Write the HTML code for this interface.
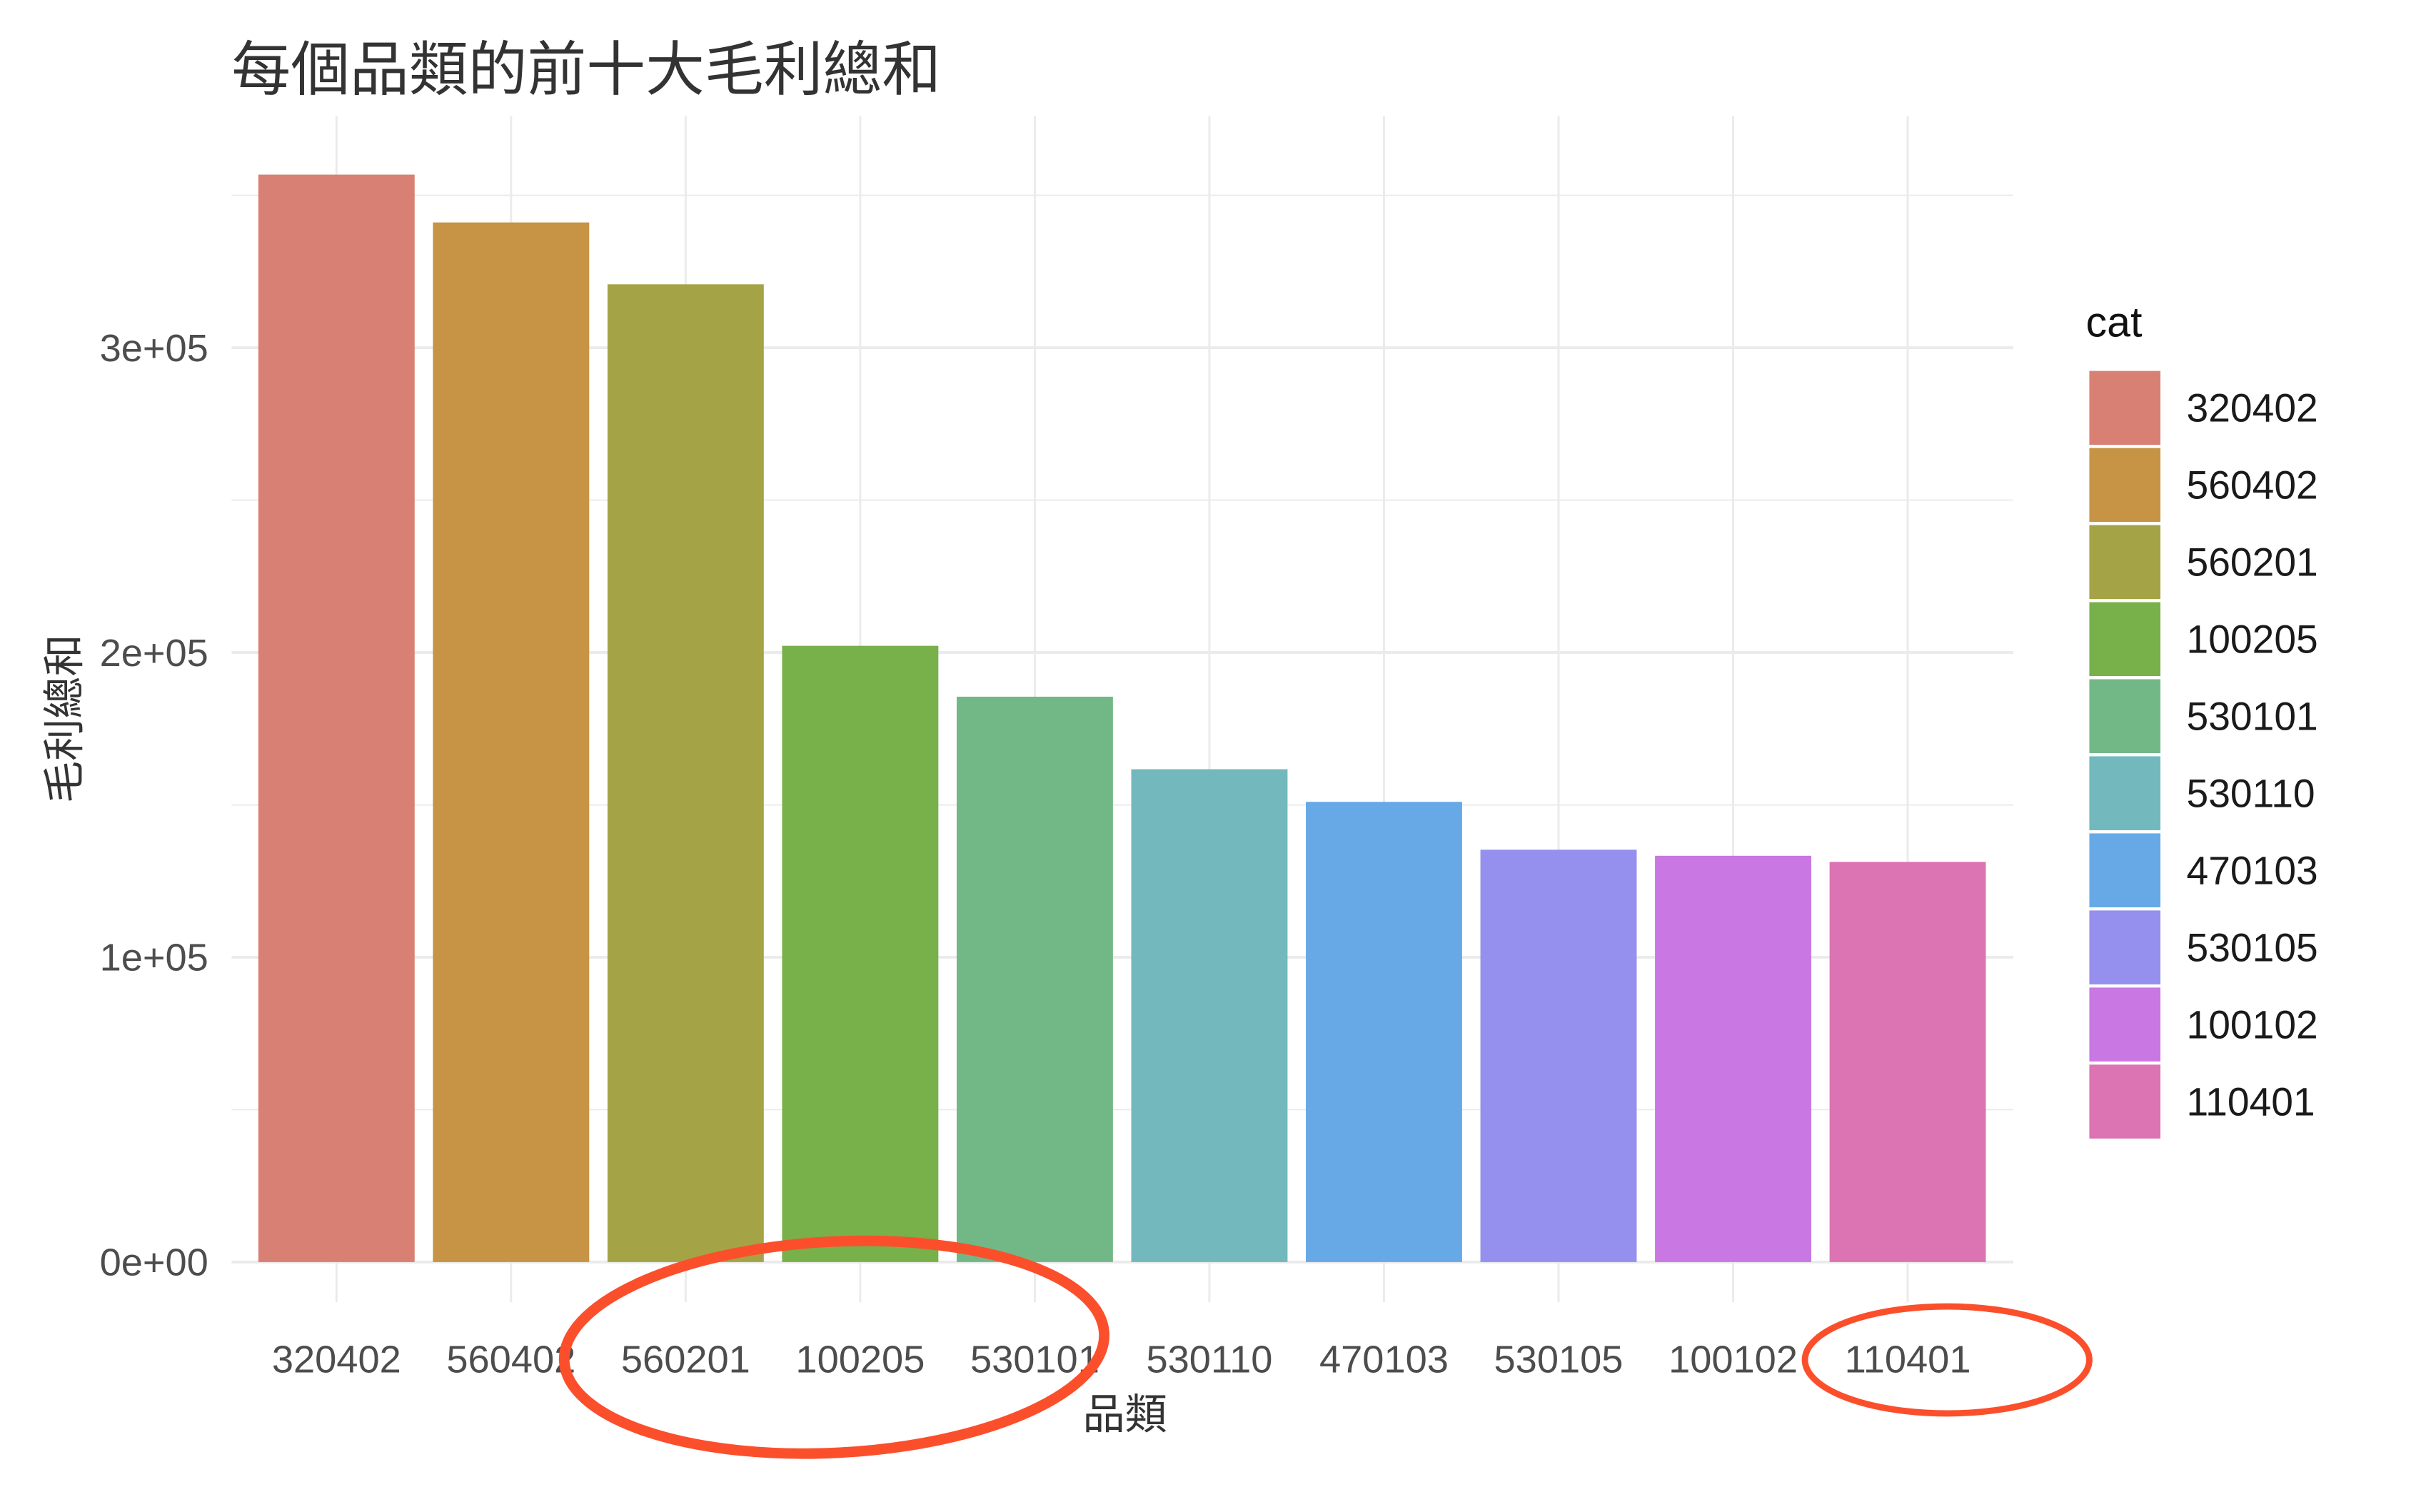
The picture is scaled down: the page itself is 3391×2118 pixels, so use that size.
<!DOCTYPE html>
<html><head><meta charset="utf-8"><style>
html,body{margin:0;padding:0;background:#fff;width:3391px;height:2118px;overflow:hidden}
svg text{font-family:"Liberation Sans","Noto Sans CJK TC",sans-serif}
</style></head><body>
<svg id="chart" width="3391" height="2118" viewBox="0 0 3391 2118" xmlns="http://www.w3.org/2000/svg">
<g transform="scale(0.986)">
<text x="329" y="128" font-size="84" fill="#333">每個品類的前十大毛利總和</text>
<g id="grid"></g><g id="bars"></g><g id="xticks"></g><g id="yticks"></g>
<text x="1598" y="2030" font-size="60" fill="#333" text-anchor="middle">品類</text>
<text transform="translate(112,1021) rotate(-90)" font-size="60" fill="#333" text-anchor="middle">毛利總和</text>
<g id="legend">
<text x="2963" y="478" font-size="60" fill="#111">cat</text>
</g>
<ellipse cx="1185" cy="1914" rx="384" ry="150" fill="none" stroke="#fb4f2c" stroke-width="15" transform="rotate(-3 1185 1914)"/>
<ellipse cx="2766" cy="1932" rx="202" ry="76" fill="none" stroke="#fb4f2c" stroke-width="9"/>
</g>
</svg>
<script>
const categories=["320402","560402","560201","100205","530101","530110","470103","530105","100102","110401"];
const values=[356800,341100,320800,202200,185500,161700,151000,135300,133300,131300];
const colors=["#D98074","#C79344","#A4A446","#78B04A","#72B886","#72B8BD","#67A9E6","#958FEE","#C877E3","#DC73B2"];
const yTicks=[0,100000,200000,300000];
const yTickLabels=["0e+00","1e+05","2e+05","3e+05"];
const NS="http://www.w3.org/2000/svg";
const panelL=329,panelR=2860,panelT=165,y0=1793,pxPer=433/100000;
const step=248,firstC=478,barW=222;
function y(v){return y0-v*pxPer;}
function x(i){return firstC+i*step;}
function mk(t,a,p){const e=document.createElementNS(NS,t);for(const k in a)e.setAttribute(k,a[k]);p.appendChild(e);return e;}
const grid=document.getElementById('grid');
for(let v=0;v<=350000;v+=50000){
 const l=mk('line',{x1:panelL,x2:panelR,y1:y(v),y2:y(v),stroke:'#ebebeb','stroke-width':v%100000===0?4:2},grid);
 
 
}
categories.forEach((c,i)=>{
 const l=mk('line',{x1:x(i),x2:x(i),y1:panelT,y2:1850,stroke:'#ebebeb','stroke-width':3},grid);
 
 
 const r=mk('rect',{x:x(i)-barW/2,y:y(values[i]),width:barW,height:values[i]*pxPer,fill:colors[i]},document.getElementById('bars'));
 
 
 const t=mk('text',{x:x(i),y:1950,'font-size':55,fill:'#4d4d4d','text-anchor':'middle'},document.getElementById('xticks'));
 t.textContent=c;
 
 
 const lg=document.getElementById('legend');
 const k=mk('rect',{x:2968,y:527+i*109.5,width:101,height:105,fill:colors[i]},lg);
 
 
 const lt=mk('text',{x:3106,y:527+i*109.5+72,'font-size':56,fill:'#1a1a1a'},lg);
 lt.textContent=c;
 
 
});
yTicks.forEach((v,i)=>{
 const t=mk('text',{x:296,y:y(v)+19,'font-size':55,fill:'#4d4d4d','text-anchor':'end'},document.getElementById('yticks'));
 t.textContent=yTickLabels[i];
 
 
});
</script>
</body></html>
